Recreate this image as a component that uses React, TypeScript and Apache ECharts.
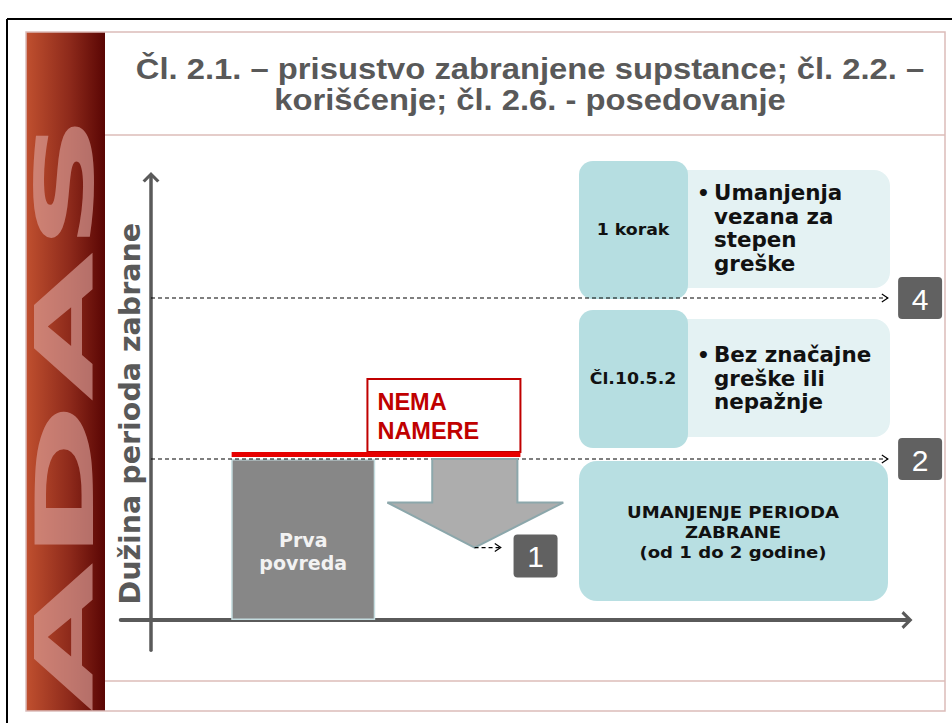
import React, { useEffect, useRef } from "react";
import * as echarts from "echarts";

// ---- content / data ----
const titleLines = [
  "Čl. 2.1. – prisustvo zabranjene supstance; čl. 2.2. –",
  "korišćenje; čl. 2.6. - posedovanje",
];
const stripText = "ADAS";
const yAxisName = "Dužina perioda zabrane";

// first offence bar (x position in axis units, ban length)
const barLabels = ["Prva\npovreda"];
const barPositions = [15.1];
const barValues = [2];

// dashed levels with their badges
const levelValues = [4, 2];
const levelLabels = ["4", "2"];

// "no intent" line: [xStart, xEnd, level]
const intentLabels = ["NEMA\nNAMERE"];
const intentSpans = [[8, 36.65, 2]];

// reduction arrow: [from level, to level]
const reductionSpans = [[2, 0.9]];
const reductionLabels = ["1"];

// right-hand boxes
const stepHeads = ["1 korak", "Čl.10.5.2"];
const stepBullets = [
  "Umanjenja\nvezana za\nstepen\ngreške",
  "Bez značajne\ngreške ili\nnepažnje",
];
const reductionBoxText = "UMANJENJE PERIODA\nZABRANE\n(od 1 do 2 godine)";

const LEVEL_LINE_END = 73.1;
const BADGE_X = 76.3;
const AXIS_COLOR = "#5a5a5a";
const STRETCH = 1.13;
const chevron = "path://M0,9 L9,0 L18,9 L15.5,11 L9,4.5 L2.5,11 Z";

export default function App() {
  const ref = useRef<HTMLDivElement>(null);

  useEffect(() => {
    if (!ref.current) return;
    const chart = echarts.init(ref.current, undefined, { renderer: "svg" });

    const graphic: any[] = [
      // strip
      {
        type: "rect",
        z: -10,
        shape: { x: 26, y: 32, width: 79, height: 679 },
        style: {
          fill: new echarts.graphic.LinearGradient(0, 0, 1, 0, [
            { offset: 0, color: "#c0502f" },
            { offset: 0.55, color: "#8e2a1b" },
            { offset: 1, color: "#5a0604" },
          ]),
        },
      },
      {
        type: "text",
        z: -9,
        x: 65,
        y: 712,
        rotation: Math.PI / 2,
        scaleX: 2.42,
        style: {
          text: stripText,
          fontSize: 80,
          fontWeight: "bold",
          fontFamily: "DejaVu Sans",
          fill: "rgba(218,160,154,0.66)",
          align: "left",
          verticalAlign: "middle",
        },
      },
      // white covers for overflow
      { type: "rect", z: -8, shape: { x: 0, y: 711, width: 952, height: 12 }, style: { fill: "#fff" } },
      { type: "rect", z: -8, shape: { x: 0, y: 0, width: 952, height: 32 }, style: { fill: "#fff" } },
      { type: "rect", z: -8, shape: { x: 0, y: 0, width: 26, height: 723 }, style: { fill: "#fff" } },
      // black frame
      { type: "line", z: -7, shape: { x1: 7, y1: 19, x2: 952, y2: 19 }, style: { stroke: "#000", lineWidth: 2 } },
      { type: "line", z: -7, shape: { x1: 7, y1: 19, x2: 7, y2: 723 }, style: { stroke: "#000", lineWidth: 2 } },
      // pink frame
      {
        type: "rect",
        z: -7,
        shape: { x: 26, y: 32, width: 919, height: 679 },
        style: { fill: "none", stroke: "#dcbcb9", lineWidth: 1.5 },
      },
      { type: "line", z: -7, shape: { x1: 105, y1: 135, x2: 945, y2: 135 }, style: { stroke: "#dcbcb9", lineWidth: 1.5 } },
      { type: "line", z: -7, shape: { x1: 105, y1: 681, x2: 945, y2: 681 }, style: { stroke: "#dcbcb9", lineWidth: 1.5 } },
    ];

    titleLines.forEach((t, i) => {
      graphic.push({
        type: "text",
        x: 530,
        y: 69 + i * 31,
        scaleX: STRETCH,
        style: {
          text: t,
          fontSize: 29,
          fontWeight: "bold",
          fontFamily: "Liberation Sans",
          fill: "#595959",
          align: "center",
          verticalAlign: "middle",
        },
      });
    });

    // step boxes
    const stepTops = [161, 310];
    stepTops.forEach((top, i) => {
      graphic.push({
        type: "rect",
        shape: { x: 660, y: top + 9, width: 230, height: 118, r: 16 },
        style: { fill: "#e4f2f3" },
      });
      graphic.push({
        type: "rect",
        shape: { x: 579, y: top, width: 109, height: 138, r: 14 },
        style: { fill: "#b6dee1" },
      });
      graphic.push({
        type: "text",
        x: 633,
        y: top + 68,
        scaleX: 1.05,
        style: {
          text: stepHeads[i],
          fontSize: 16.5,
          fontWeight: "bold",
          fontFamily: "DejaVu Sans",
          fill: "#111",
          align: "center",
          verticalAlign: "middle",
        },
      });
      const firstLine = i === 0 ? 193 : 355;
      graphic.push({
        type: "text",
        x: 697,
        y: firstLine,
        style: {
          text: "•",
          fontSize: 20,
          fontWeight: "bold",
          fontFamily: "DejaVu Sans",
          fill: "#111",
          align: "left",
          verticalAlign: "middle",
        },
      });
      graphic.push({
        type: "text",
        x: 714,
        y: firstLine - 11.75,
        scaleX: 1.02,
        style: {
          text: stepBullets[i],
          fontSize: 21,
          lineHeight: 23.5,
          fontWeight: "bold",
          fontFamily: "DejaVu Sans",
          fill: "#111",
          align: "left",
          verticalAlign: "top",
        },
      });
    });
    graphic.push({
      type: "rect",
      shape: { x: 579, y: 461, width: 309, height: 140, r: 18 },
      style: { fill: "#b8dfe2" },
    });
    graphic.push({
      type: "text",
      x: 733,
      y: 532,
      scaleX: STRETCH,
      style: {
        text: reductionBoxText,
        fontSize: 16,
        lineHeight: 20,
        fontWeight: "bold",
        fontFamily: "DejaVu Sans",
        fill: "#111",
        align: "center",
        verticalAlign: "middle",
      },
    });

    const option: any = {
      animation: false,
      backgroundColor: "#ffffff",
      grid: { left: 120.76, right: 45, top: 177.25, bottom: 72.8, containLabel: false },
      xAxis: {
        type: "value",
        min: -3,
        max: 75,
        axisLine: {
          show: true,
          onZero: true,
          symbol: ["none", chevron],
          symbolSize: [18, 12],
          lineStyle: { color: AXIS_COLOR, width: 4 },
        },
        axisTick: { show: false },
        axisLabel: { show: false },
        splitLine: { show: false },
      },
      yAxis: {
        type: "value",
        min: -0.375,
        max: 5.5,
        name: yAxisName,
        nameLocation: "middle",
        nameRotate: 90,
        nameGap: -24,
        nameTextStyle: {
          fontFamily: "DejaVu Sans",
          fontWeight: "bold",
          fontSize: 28.5,
          color: "#595959",
        },
        axisLine: {
          show: true,
          onZero: true,
          symbol: ["none", chevron],
          symbolSize: [17, 11],
          lineStyle: { color: AXIS_COLOR, width: 3.5 },
        },
        axisTick: { show: false },
        axisLabel: { show: false },
        splitLine: { show: false },
      },
      graphic,
      series: [
        {
          type: "bar",
          data: barPositions.map((x, i) => [x, barValues[i]]),
          barWidth: 144,
          z: 3,
          itemStyle: { color: "#878787", borderColor: "#c4dcdf", borderWidth: 1.5 },
          label: {
            show: true,
            position: "inside",
            offset: [0, 12],
            formatter: (p: any) => barLabels[p.dataIndex],
            color: "#f2f2f2",
            fontFamily: "DejaVu Sans",
            fontWeight: "bold",
            fontSize: 19,
            lineHeight: 23,
          },
        },
        {
          type: "custom",
          z: 4,
          data: levelValues.map((v) => [LEVEL_LINE_END, v]),
          renderItem: (params: any, api: any) => {
            const v = api.value(1);
            const s = api.coord([0, v]);
            const e = api.coord([api.value(0), v]);
            const b = api.coord([BADGE_X, v]);
            return {
              type: "group",
              children: [
                {
                  type: "line",
                  shape: { x1: s[0], y1: s[1], x2: e[0], y2: e[1] },
                  style: { stroke: "#000", lineWidth: 1.2, lineDash: [4, 3] },
                },
                {
                  type: "polyline",
                  shape: { points: [[e[0] - 6, e[1] - 4], [e[0], e[1]], [e[0] - 6, e[1] + 4]] },
                  style: { stroke: "#000", lineWidth: 1.2, fill: "none" },
                },
                {
                  type: "rect",
                  shape: { x: b[0] - 22, y: b[1] - 21, width: 44, height: 42, r: 4 },
                  style: { fill: "#616161" },
                },
                {
                  type: "text",
                  x: b[0],
                  y: b[1] + 1,
                  style: {
                    text: levelLabels[params.dataIndex],
                    fill: "#ffffff",
                    fontSize: 30,
                    fontFamily: "Liberation Sans",
                    align: "center",
                    verticalAlign: "middle",
                  },
                },
              ],
            };
          },
        },
        {
          type: "custom",
          z: 5,
          data: intentSpans,
          renderItem: (params: any, api: any) => {
            const v = api.value(2);
            const s = api.coord([api.value(0), v]);
            const e = api.coord([api.value(1), v]);
            const boxW = 153;
            return {
              type: "group",
              children: [
                {
                  type: "rect",
                  shape: { x: e[0] - boxW, y: s[1] - 80, width: boxW, height: 73 },
                  style: { fill: "#ffffff", stroke: "#c00000", lineWidth: 2 },
                },
                {
                  type: "rect",
                  shape: { x: s[0], y: s[1] - 7, width: e[0] - s[0], height: 5 },
                  style: { fill: "#e60000" },
                },
                {
                  type: "text",
                  x: e[0] - boxW + 10,
                  y: s[1] - 43,
                  style: {
                    text: intentLabels[params.dataIndex],
                    fill: "#c00000",
                    fontSize: 23.5,
                    lineHeight: 29,
                    fontWeight: "bold",
                    fontFamily: "Liberation Sans",
                    align: "left",
                    verticalAlign: "middle",
                  },
                },
              ],
            };
          },
        },
        {
          type: "custom",
          z: 5,
          data: reductionSpans,
          renderItem: (params: any, api: any) => {
            const top = api.coord([27.9, api.value(0)]);
            const shaftR = api.coord([36.35, api.value(0)]);
            const tip = api.coord([32.1, api.value(1)]);
            const headL = api.coord([23.45, api.value(1)]);
            const headR = api.coord([40.9, api.value(1)]);
            const dashEnd = api.coord([34.7, api.value(1)]);
            const badge = api.coord([38.15, api.value(1)]);
            const headY = tip[1] - 45;
            return {
              type: "group",
              children: [
                {
                  type: "polygon",
                  shape: {
                    points: [
                      [top[0], top[1]],
                      [shaftR[0], top[1]],
                      [shaftR[0], headY],
                      [headR[0], headY],
                      [tip[0], tip[1]],
                      [headL[0], headY],
                      [top[0], headY],
                    ],
                  },
                  style: { fill: "#adadad", stroke: "#8ca7ab", lineWidth: 2 },
                },
                {
                  type: "line",
                  shape: { x1: tip[0], y1: tip[1], x2: dashEnd[0], y2: tip[1] },
                  style: { stroke: "#000", lineWidth: 1.2, lineDash: [4, 3] },
                },
                {
                  type: "polyline",
                  shape: {
                    points: [
                      [dashEnd[0] - 6, tip[1] - 4],
                      [dashEnd[0], tip[1]],
                      [dashEnd[0] - 6, tip[1] + 4],
                    ],
                  },
                  style: { stroke: "#000", lineWidth: 1.2, fill: "none" },
                },
                {
                  type: "rect",
                  shape: { x: badge[0] - 22, y: tip[1] - 13, width: 44, height: 43, r: 4 },
                  style: { fill: "#616161" },
                },
                {
                  type: "text",
                  x: badge[0],
                  y: tip[1] + 9,
                  style: {
                    text: reductionLabels[params.dataIndex],
                    fill: "#ffffff",
                    fontSize: 30,
                    fontFamily: "Liberation Sans",
                    align: "center",
                    verticalAlign: "middle",
                  },
                },
              ],
            };
          },
        },
      ],
    };

    chart.setOption(option);
    return () => chart.dispose();
  }, []);

  return (
    <div
      ref={ref}
      style={{ position: "absolute", left: 0, top: 0, width: 952, height: 723 }}
    />
  );
}
